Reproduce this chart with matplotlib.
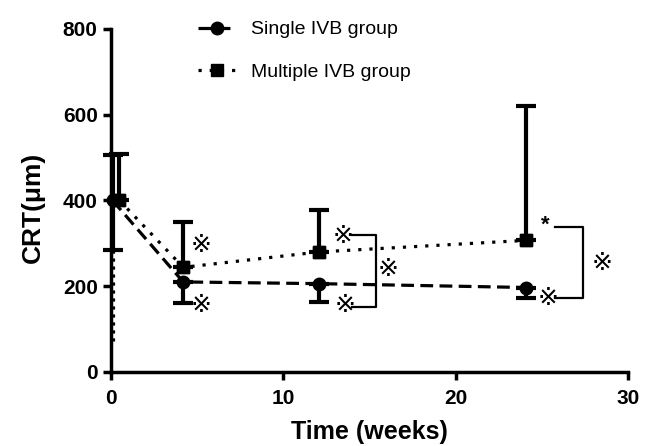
import matplotlib.pyplot as plt

plt.rcParams['font.family'] = ['Liberation Sans', 'DejaVu Sans', 'Noto Sans CJK JP']

# data
single_t = [0.1, 4.2, 12.1, 24.1]
single_crt = [400, 210, 206, 197]
single_lo = [284, 161, 164, 172]
single_hi = [505, 210, 206, 197]

multi_t = [0.5, 4.2, 12.1, 24.1]
multi_crt = [400, 244, 280, 307]
multi_lo = [400, 244, 280, 307]
multi_hi = [508, 350, 378, 621]

mark = '\u203b'

fig = plt.figure(figsize=(6.52, 4.46), dpi=100)
ax = fig.add_axes([0.170, 0.166, 0.793, 0.769])

def err(m, lo, hi):
    return [[a - b for a, b in zip(m, lo)], [b - a for a, b in zip(m, hi)]]

ax.errorbar(single_t, single_crt, yerr=err(single_crt, single_lo, single_hi),
            fmt='o', color='black', ms=8, elinewidth=3, capsize=7, capthick=3,
            clip_on=False, zorder=3)
ax.errorbar(multi_t, multi_crt, yerr=err(multi_crt, multi_lo, multi_hi),
            fmt='s', color='black', ms=8, elinewidth=3, capsize=7, capthick=3,
            clip_on=False, zorder=3)
ax.plot(single_t, single_crt, color='black', lw=2.3, ls=(0, (4, 2)), clip_on=False,
        marker='o', ms=9, label='Single IVB group')
ax.plot(multi_t, multi_crt, color='black', lw=2.3, ls=(0, (1, 2.5)), clip_on=False,
        marker='s', ms=9, label='Multiple IVB group')
# dotted trail along the y axis at time 0
ax.plot([0.1, 0.1], [284, 72], color='black', lw=2.3, ls=(0, (1, 1.5)), clip_on=False)

# significance marks and brackets
ax.plot([13.99, 15.4, 15.4, 13.99], [320, 320, 152, 152], color='black', lw=1.6)
ax.plot([25.77, 27.4, 27.4, 25.77], [337, 337, 172, 172], color='black', lw=1.6)
for x, y in [(5.26, 296), (5.26, 156), (13.45, 317), (13.6, 156), (16.1, 240),
             (25.4, 172), (28.5, 254)]:
    ax.text(x, y, mark, fontsize=18, ha='center', va='center',
            family=['DejaVu Sans', 'Noto Sans CJK JP'])
ax.text(25.2, 343, '*', fontsize=16, ha='center', va='center', fontweight='bold')

ax.set_xlim(0, 30)
ax.set_ylim(0, 800)
ax.set_xticks([0, 10, 20, 30])
ax.set_yticks([0, 200, 400, 600, 800])
for s in ['top', 'right']:
    ax.spines[s].set_visible(False)
for s in ['left', 'bottom']:
    ax.spines[s].set_linewidth(2.5)
ax.tick_params(width=2.5, length=6, labelsize=15)
ax.tick_params(axis='x', pad=6)
for lab in ax.get_xticklabels() + ax.get_yticklabels():
    lab.set_fontweight('bold')
ax.set_xlabel('Time (weeks)', fontsize=18, fontweight='bold', labelpad=9)
ax.set_ylabel('CRT(\u03bcm)', fontsize=19, fontweight='bold')
ax.yaxis.set_label_coords(-0.128, 0.48)

ax.legend(loc='upper left', bbox_to_anchor=(0.135, 1.075), frameon=False, fontsize=14,
          handlelength=1.9, labelspacing=1.3, handletextpad=0.8)

fig.savefig('out.png', dpi=100)
